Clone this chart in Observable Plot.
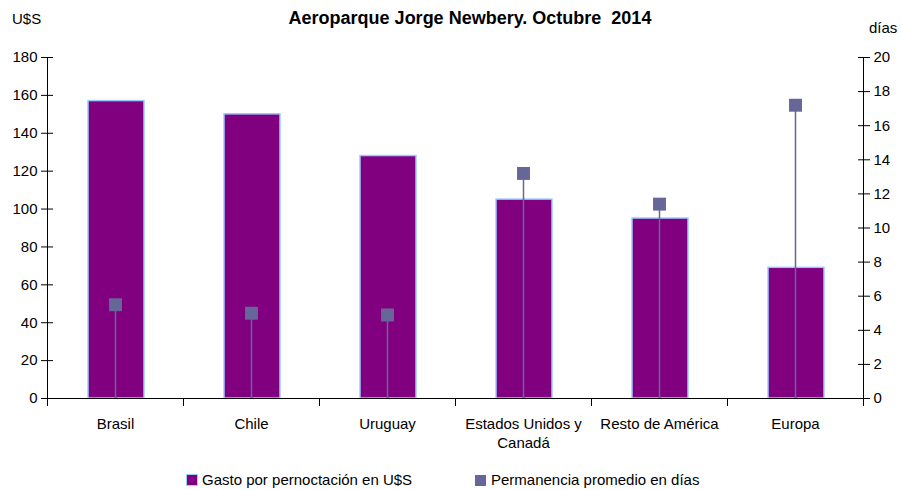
<!DOCTYPE html>
<html><head><meta charset="utf-8">
<script src="https://cdn.jsdelivr.net/npm/d3@7"></script>
<script src="https://cdn.jsdelivr.net/npm/@observablehq/plot@0.6"></script>
<style>
body{margin:0;background:#fff;font-family:"Liberation Sans Narrow","Arial Narrow","Liberation Sans",sans-serif;}
#wrap{position:relative;width:901px;height:490px;}
.lbl{position:absolute;font-size:15px;color:#000;white-space:nowrap;}
#title{position:absolute;top:8px;left:0;width:940px;text-align:center;font-weight:bold;font-size:18px;}
.sw{display:inline-block;width:10px;height:10px;vertical-align:middle;margin-right:5px;position:relative;top:-1px;}
</style></head>
<body><div id="wrap">
<div id="chart" style="position:absolute;left:0;top:0;"></div>
<div id="title">Aeroparque Jorge Newbery. Octubre&nbsp; 2014</div>
<div class="lbl" style="left:12px;top:10px;">U$S</div>
<div class="lbl" style="left:869px;top:19px;">días</div>
<div class="lbl" style="left:187px;top:471px;"><span class="sw" style="background:#800080;box-shadow:0 0 0 1px #99ccff;"></span>Gasto por pernoctación en U$S</div>
<div class="lbl" style="left:475px;top:471px;"><span class="sw" style="background:#666699;width:11px;height:11px;"></span>Permanencia promedio en días</div>
</div>
<script>
const categories = ["Brasil", "Chile", "Uruguay", "Estados Unidos y\nCanadá", "Resto de América", "Europa"];
const gasto = [157, 150, 128, 105, 95, 69];
const dias = [5.5, 5.0, 4.9, 13.2, 11.4, 17.2];
const leftTicks = [0, 20, 40, 60, 80, 100, 120, 140, 160, 180];
const rightTicks = [0, 2, 4, 6, 8, 10, 12, 14, 16, 18, 20];

const k = 180 / 20;
const data = categories.map((c, i) => ({c, i, gasto: gasto[i], dias: dias[i]}));
const n = categories.length;

const chart = Plot.plot({
  width: 901, height: 450,
  marginTop: 57, marginBottom: 52, marginLeft: 47, marginRight: 38,
  style: {fontFamily: '"Liberation Sans Narrow","Arial Narrow","Liberation Sans",sans-serif', fontSize: "15px", color: "#000"},
  x: {type: "linear", domain: [0, n], axis: null, label: null},
  y: {domain: [0, 180], axis: null, label: null},
  marks: [
    Plot.rectY(data, {x1: d => d.i, x2: d => d.i + 1, y1: 0, y2: "gasto", insetLeft: 41, insetRight: 39, fill: "#800080", stroke: "#99ccff", strokeWidth: 1.5}),
    Plot.ruleX(data, {x: d => d.i + 0.5, y1: 0, y2: d => d.dias * k, stroke: "#666699", strokeWidth: 1.5}),
    Plot.dot(data, {x: d => d.i + 0.5, y: d => d.dias * k, symbol: "square", r: 7.3, fill: "#666699", stroke: "none"}),
    // left axis
    Plot.ruleX([0], {stroke: "#000"}),
    Plot.axisY(leftTicks, {anchor: "left", label: null, tickSize: 6, tickPadding: 4, stroke: "#000", fontSize: 15}),
    Plot.axisY(leftTicks, {anchor: "left", label: null, tickSize: -6, tickFormat: null, text: null, stroke: "#000"}),
    // right axis
    Plot.ruleX([n], {stroke: "#000"}),
    Plot.axisY(rightTicks.map(d => d * k), {anchor: "right", label: null, tickSize: 6, tickPadding: 4, tickFormat: d => d / k, stroke: "#000", fontSize: 15}),
    Plot.axisY(rightTicks.map(d => d * k), {anchor: "right", label: null, tickSize: -6, tickFormat: null, text: null, stroke: "#000"}),
    // bottom axis
    Plot.ruleY([0], {stroke: "#000"}),
    Plot.axisX(d3.range(0, n + 1), {anchor: "bottom", label: null, tickSize: 8, tickFormat: null, text: null, stroke: "#000"}),
    Plot.axisX(data.map(d => d.i + 0.5), {anchor: "bottom", label: null, tickSize: 0, tickPadding: 17, tickFormat: (d) => categories[Math.floor(d)], fontSize: 15, lineHeight: 1.25})
  ]
});
document.getElementById("chart").appendChild(chart);
</script>
</body></html>
